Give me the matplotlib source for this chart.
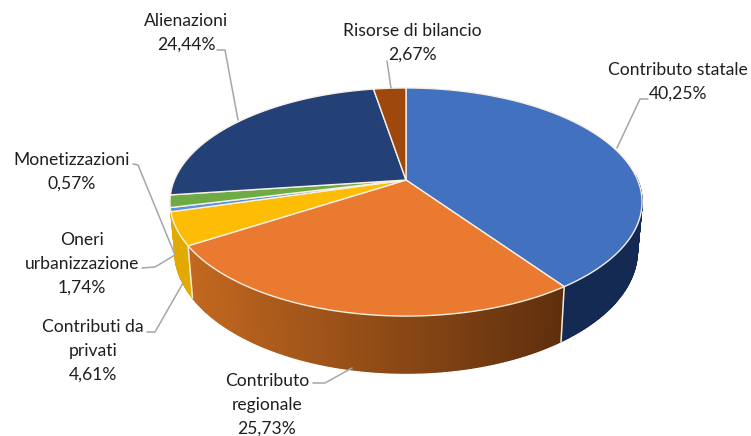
import numpy as np
import matplotlib
matplotlib.use("Agg")
import matplotlib.pyplot as plt
from matplotlib.colors import to_rgb

plt.rcParams['font.family'] = ['Lato', 'DejaVu Sans']

names = ["Contributo\u00a0statale", "Contributo\nregionale", "Contributi da\nprivati",
         "Monetizzazioni", "Oneri\nurbanizzazione", "Alienazioni", "Risorse di bilancio"]
values = [40.25, 25.73, 4.61, 0.57, 1.74, 24.44, 2.67]
value_labels = ["40,25%", "25,73%", "4,61%", "0,57%", "1,74%", "24,44%", "2,67%"]

top_colors = ["#4271bf", "#e97a30", "#fdbd05", "#5b92dc", "#6fab45", "#234077", "#9e480e"]
side_left = ["#1b3364", "#c2681f", "#e0aa00", "#5b9bd5", "#70ad47", "#1b3364", "#7a3808"]
side_right = ["#142a52", "#5f2f0d", "#d8a000", "#5b9bd5", "#70ad47", "#1b3364", "#7a3808"]

# label centres (pixels), first line y and leader line points
label_pos = [(678, 70), (267, 381), (93, 327), (72, 160), (82, 240), (186, 21), (412, 31)]
leaders = [
    [(648, 99), (640, 99), (617, 148)],
    [(313, 383), (325, 383), (352, 368)],
    [(147, 332), (155, 332), (183, 283)],
    [(133, 164), (138, 165), (175, 255)],
    [(142, 268), (155, 267), (175, 255)],
    [(217, 50), (225, 50), (238, 120)],
    [(387, 61), (391, 88)],
]

cx, cy = 406, 180
k = 0.193
ax_x, ax_y = 231.6, 109.8


def top_xy(t):
    # circle seen in perspective, t in radians
    w = 1 + k * np.sin(t)
    return cx + ax_x * np.cos(t) / w, cy - ax_y * np.sin(t) / w


def bottom_xy(t):
    x, y = top_xy(t)
    return cx + 0.98 * (x - cx), y + 57 - (316 - y) * 0.0714


fig = plt.figure(figsize=(7.51, 4.36), dpi=100)
ax = fig.add_axes([0, 0, 1, 1])
ax.set_xlim(0, 751)
ax.set_ylim(436, 0)
ax.axis("off")

edges = 90 - 360 * np.cumsum([0] + values) / sum(values)

# sides first, the top covers what is behind
for i in range(len(values)):
    a0, a1 = edges[i], edges[i + 1]
    n = max(2, int(abs(a1 - a0) * 2))
    ts = np.radians(np.linspace(a0, a1, n))
    xt, yt = top_xy(ts)
    xb, yb = bottom_xy(ts)
    c0, c1 = np.array(to_rgb(side_left[i])), np.array(to_rgb(side_right[i]))
    for j in range(n - 1):
        if np.sin(ts[j]) > 0.05 or a0 < -164:
            continue
        f = np.clip((xt[j] - 190) / (563 - 190), 0, 1)
        col = c0 + (c1 - c0) * f
        ax.fill([xt[j], xt[j + 1], xb[j + 1], xb[j]], [yt[j], yt[j + 1], yb[j + 1], yb[j]],
                color=col, lw=1.0, zorder=2)

for e in edges[1:3]:
    t = np.radians(e)
    x0, y0 = top_xy(t)
    x1, y1 = bottom_xy(t)
    ax.plot([x0, x1], [y0, y1], color="#f3ead9", lw=1.1, zorder=3)

# top of the pie
for i in range(len(values)):
    ts = np.radians(np.linspace(edges[i], edges[i + 1], 200))
    x, y = top_xy(ts)
    ax.fill(np.r_[cx, x], np.r_[cy, y], facecolor=top_colors[i], edgecolor="#f6efe4",
            lw=1.0, joinstyle="round", zorder=4)

for pts in leaders:
    px, py = zip(*pts)
    ax.plot(px, py, color="#a6a6a6", lw=1.1, zorder=5, solid_capstyle="round")

for i in range(len(values)):
    lines = names[i].split("\n") + [value_labels[i]]
    lx, ly = label_pos[i]
    for n, line in enumerate(lines):
        ax.text(lx, ly + n * 23.6, line, ha="center", va="center", fontsize=12.6,
                color="#1f1f1f", zorder=6)

fig.savefig("out.png", dpi=100)
